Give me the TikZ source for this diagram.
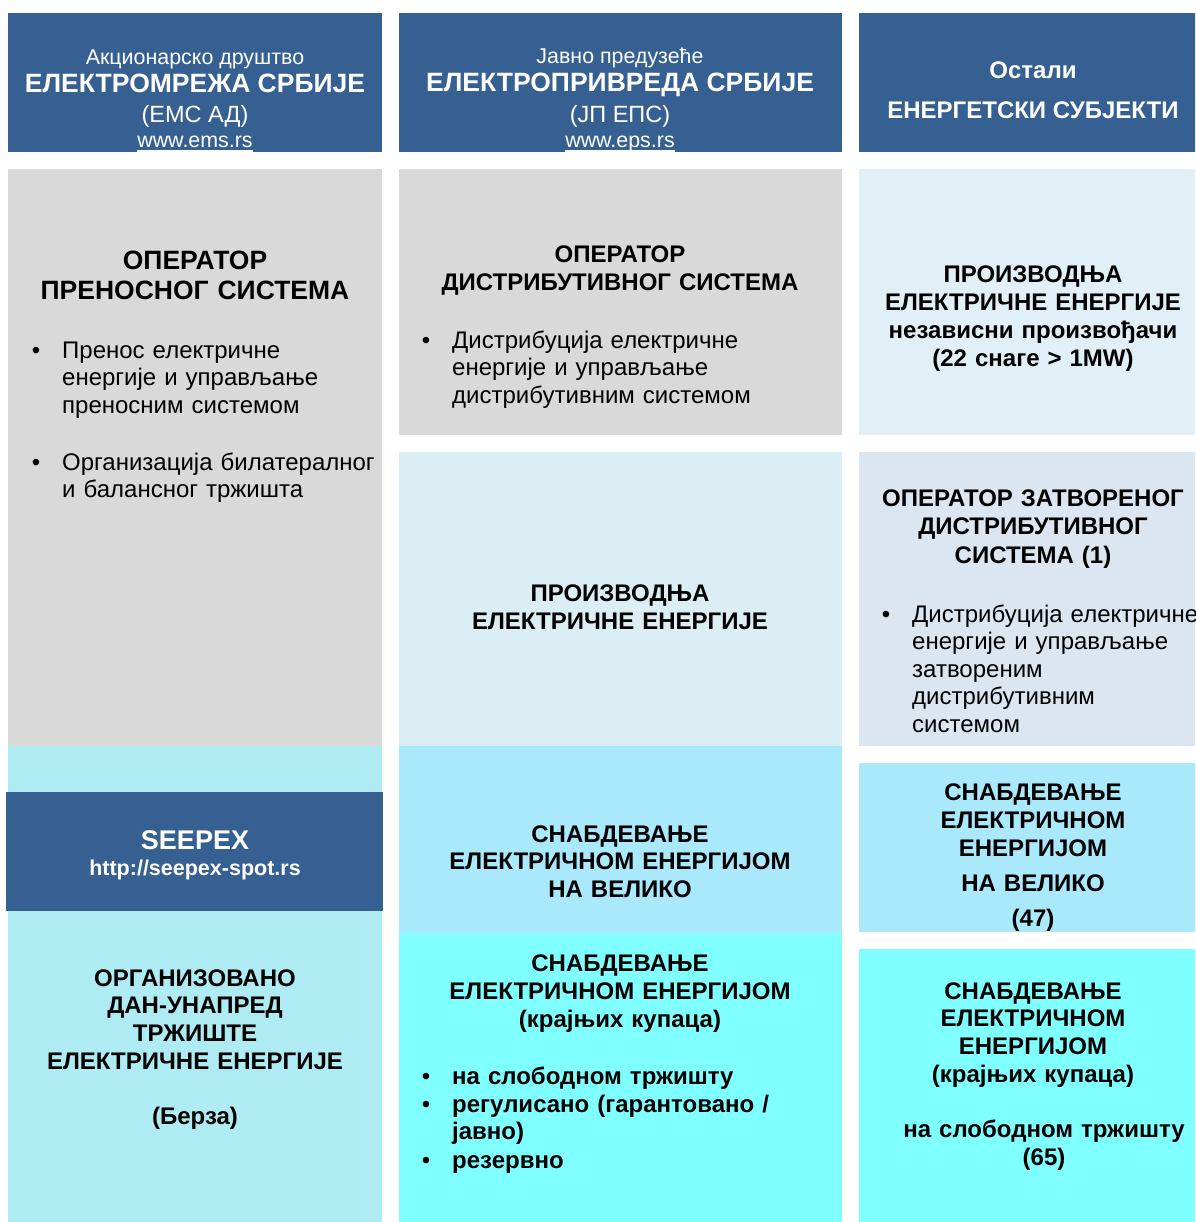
\documentclass[tikz,border=0pt]{standalone}
\usepackage{fontspec}
\setmainfont{Liberation Sans}
\newcommand{\fnt}[2]{\fontsize{#1}{#2}\selectfont}
\definecolor{hdrblue}{HTML}{366092}
\definecolor{greybox}{HTML}{D9D9D9}
\definecolor{gentop}{HTML}{E1F0F6}
\definecolor{genmid}{HTML}{DAEEF3}
\definecolor{cdobox}{HTML}{DCE6F1}
\definecolor{whlbox}{HTML}{AAE8FC}
\definecolor{retbox}{HTML}{80FFFF}
\definecolor{exbox}{HTML}{AFEBF2}
\begin{document}
\begin{tikzpicture}[x=1pt,y=-1pt,
  box/.style={rectangle, inner sep=0pt, outer sep=0pt, anchor=north west},
  hd/.style={text=white, inner sep=0pt, anchor=base},
  ctr/.style={inner sep=0pt, anchor=base, align=center, text width=#1},
  ctr/.default=420,
  itm/.style={inner sep=0pt, anchor=base west, align=left, text width=420, font=\fnt{24}{27.6}},
  bitm/.style={itm, font=\fnt{24}{27.6}\bfseries},
  dot/.style={inner sep=0pt, anchor=base, font=\fnt{24}{27.6}},
  linkline/.style={draw=white, line width=1.8pt}
]
% page
\clip (0,0) rectangle (1195,1222);
\fill[white] (0,0) rectangle (1195,1222);

% ---- column headers
\node[box, fill=hdrblue, minimum width=374, minimum height=139] (hdr1) at (8,13) {};
\node[box, fill=hdrblue, minimum width=443, minimum height=139] (hdr2) at (399,13) {};
\node[box, fill=hdrblue, minimum width=350, minimum height=139] (hdr3) at (859,13) {};

% ---- column 1: EMS
\node[box, fill=greybox, minimum width=374, minimum height=577] (tso) at (8,169) {};
\node[box, fill=exbox, minimum width=374, minimum height=476] (exch) at (8,746) {};
\node[box, fill=hdrblue, minimum width=377, minimum height=119] (seepex) at (6,792) {};

% ---- column 2: EPS
\node[box, fill=greybox, minimum width=443, minimum height=266] (dso) at (399,169) {};
\node[box, fill=genmid, minimum width=443, minimum height=294] (gen2) at (399,452) {};
\node[box, fill=whlbox, minimum width=443, minimum height=187] (whl2) at (399,746) {};
\node[box, fill=retbox, minimum width=443, minimum height=289] (ret2) at (399,933) {};

% ---- column 3: other entities
\node[box, fill=gentop, minimum width=350, minimum height=266] (gen3) at (859,169) {};
\node[box, fill=cdobox, minimum width=350, minimum height=294] (cdso) at (859,452) {};
\node[box, fill=whlbox, minimum width=350, minimum height=169] (whl3) at (859,763) {};
\node[box, fill=retbox, minimum width=350, minimum height=273] (ret3) at (859,949) {};

% ---- header texts
\node[hd, font=\fnt{21.4}{24}] (h1a) at (195,65) {Акционарско друштво};
\node[hd, font=\fnt{26.5}{28}\bfseries] (h1b) at (195,93) {ЕЛЕКТРОМРЕЖА СРБИЈЕ};
\node[hd, font=\fnt{23.5}{26}] (h1c) at (195,123) {(ЕМС АД)};
\node[hd, font=\fnt{21.4}{24}] (h1d) at (195,148) {www.ems.rs};
\draw[linkline] ([yshift=-3pt]h1d.base west) -- ([yshift=-3pt]h1d.base east);

\node[hd, font=\fnt{21.4}{24}] (h2a) at (620,64) {Јавно предузеће};
\node[hd, font=\fnt{26.5}{28}\bfseries] (h2b) at (620,92) {ЕЛЕКТРОПРИВРЕДА СРБИЈЕ};
\node[hd, font=\fnt{23.5}{26}] (h2c) at (620,123) {(ЈП ЕПС)};
\node[hd, font=\fnt{21.4}{24}] (h2d) at (620,148) {www.eps.rs};
\draw[linkline] ([yshift=-3pt]h2d.base west) -- ([yshift=-3pt]h2d.base east);

\node[hd, font=\fnt{24}{27.6}\bfseries] (h3a) at (1033,79) {Остали};
\node[hd, font=\fnt{24}{27.6}\bfseries] (h3b) at (1033,119) {ЕНЕРГЕТСКИ СУБЈЕКТИ};

% ---- column 1 texts
\node[ctr=370, font=\fnt{26.5}{30}\bfseries] (tsoT) at (195,270) {ОПЕРАТОР\\ПРЕНОСНОГ СИСТЕМА};
\node[dot] (tsoD1) at (36,358) {•};
\node[itm] (tsoI1) at (62,358) {Пренос електричне\\енергије и управљање\\преносним системом};
\node[dot] (tsoD2) at (36,470) {•};
\node[itm] (tsoI2) at (62,470) {Организација билатералног\\и балансног тржишта};

\node[hd, font=\fnt{27}{30}\bfseries] (seeA) at (195,849) {SEEPEX};
\node[hd, font=\fnt{21.5}{24}\bfseries] (seeB) at (195,875) {http://seepex-spot.rs};

\node[ctr=370, font=\fnt{24}{27.7}\bfseries] (exT) at (195,986)
  {ОРГАНИЗОВАНО\\ДАН-УНАПРЕД\\ТРЖИШТЕ\\ЕЛЕКТРИЧНЕ ЕНЕРГИЈЕ\\[28pt](Берза)};

% ---- column 2 texts
\node[ctr, font=\fnt{24}{28}\bfseries] (dsoT) at (620,263) {ОПЕРАТОР\\ДИСТРИБУТИВНОГ СИСТЕМА};
\node[dot] (dsoD) at (426,348) {•};
\node[itm] (dsoI) at (452,348) {Дистрибуција електричне\\енергије и управљање\\дистрибутивним системом};

\node[ctr, font=\fnt{24}{28}\bfseries] (gen2T) at (620,601) {ПРОИЗВОДЊА\\ЕЛЕКТРИЧНЕ ЕНЕРГИЈЕ};

\node[ctr, font=\fnt{24}{27.5}\bfseries] (whl2T) at (620,842) {СНАБДЕВАЊЕ\\ЕЛЕКТРИЧНОМ ЕНЕРГИЈОМ\\НА ВЕЛИКО};

\node[ctr, font=\fnt{24}{28}\bfseries] (ret2T) at (620,971) {СНАБДЕВАЊЕ\\ЕЛЕКТРИЧНОМ ЕНЕРГИЈОМ\\(крајњих купаца)};
\node[dot] (ret2D1) at (426,1084) {•};
\node[bitm] (ret2I1) at (452,1084) {на слободном тржишту};
\node[dot] (ret2D2) at (426,1112) {•};
\node[bitm] (ret2I2) at (452,1112) {регулисано (гарантовано /\\јавно)};
\node[dot] (ret2D3) at (426,1168) {•};
\node[bitm] (ret2I3) at (452,1168) {резервно};

% ---- column 3 texts
\node[ctr=340, font=\fnt{24}{27.7}\bfseries] (gen3T) at (1033,283)
  {ПРОИЗВОДЊА\\ЕЛЕКТРИЧНЕ ЕНЕРГИЈЕ\\независни произвођачи\\(22 снаге > 1MW)};

\node[ctr=340, font=\fnt{24}{28.5}\bfseries] (cdsoT) at (1033,506) {ОПЕРАТОР ЗАТВОРЕНОГ\\ДИСТРИБУТИВНОГ\\СИСТЕМА (1)};
\node[dot] (cdsoD) at (886,622) {•};
\node[itm] (cdsoI) at (912,622) {Дистрибуција електричне\\енергије и управљање\\затвореним\\дистрибутивним\\системом};

\node[ctr=340, font=\fnt{24}{28}\bfseries] (whl3T) at (1033,800)
  {СНАБДЕВАЊЕ\\ЕЛЕКТРИЧНОМ\\ЕНЕРГИЈОМ\\[7pt]НА ВЕЛИКО\\[7pt](47)};

\node[ctr=340, font=\fnt{24}{27.7}\bfseries] (ret3T) at (1033,999)
  {СНАБДЕВАЊЕ\\ЕЛЕКТРИЧНОМ\\ЕНЕРГИЈОМ\\(крајњих купаца)};
\node[ctr=340, font=\fnt{24}{28}\bfseries] (ret3N) at (1044,1137) {на слободном тржишту\\(65)};
\end{tikzpicture}
\end{document}
